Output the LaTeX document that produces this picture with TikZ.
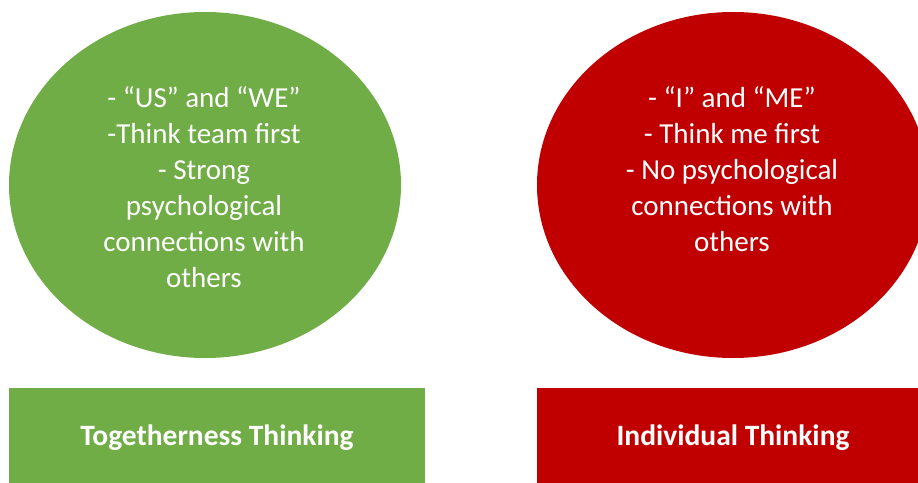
\documentclass[tikz,border=0pt]{standalone}
\usepackage{fontspec}
\setmainfont{Carlito}
\usetikzlibrary{shapes.geometric}
\definecolor{usgreen}{HTML}{70AD47}
\definecolor{mered}{HTML}{C00000}
\tikzset{
	bubble/.style={ellipse,inner sep=0pt,minimum width=392pt,minimum height=346pt},
	bubbletext/.style={anchor=north,align=center,inner sep=0pt,text=white,font=\fontsize{29}{36}\selectfont},
	tagbox/.style={rectangle,inner sep=0pt,minimum height=100pt,text=white,font=\bfseries\fontsize{29.5}{34}\selectfont},
	}

\begin{document}
\begin{tikzpicture}[x=1pt,y=1pt]
 \useasboundingbox (0,0) rectangle (918,-482);
 \clip (0,0) rectangle (918,-482);

\node (us) at (205,-185) [bubble,fill=usgreen] {};
\node (me) at (733,-185) [bubble,fill=mered] {};

\node (ustext) at (204,-86) [bubbletext] {- “US” and “WE”\\ -Think team first\\ - Strong\\ psychological\\ connections with\\ others};
\node (metext) at (732,-86) [bubbletext] {- “I” and “ME”\\ - Think me first\\ - No psychological\\ connections with\\ others};

\node (together) at (217,-438) [tagbox,fill=usgreen,minimum width=416pt] {Togetherness Thinking};
\node (individual) at (733,-438) [tagbox,fill=mered,minimum width=392pt] {Individual Thinking};
\end{tikzpicture}
\end{document}
